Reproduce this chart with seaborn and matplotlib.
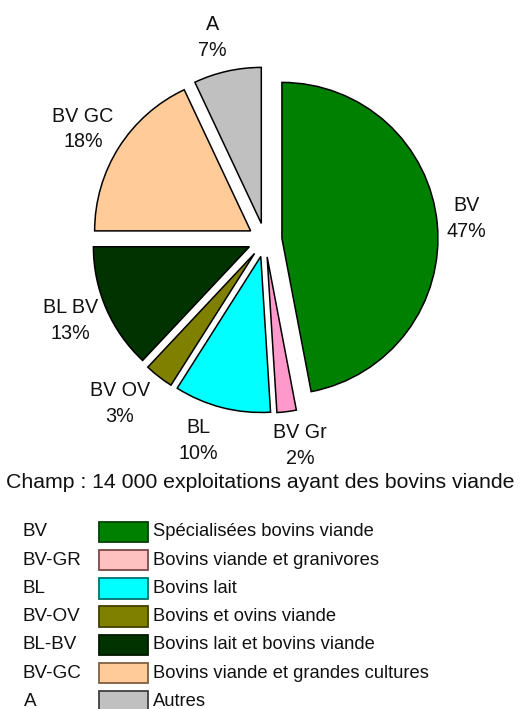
import matplotlib
matplotlib.use("Agg")
import matplotlib.pyplot as plt
import seaborn as sns

# pie data (clockwise from 12 o'clock)
pie_labels = ["BV", "BV Gr", "BL", "BV OV", "BL BV", "BV GC", "A"]
pie_shares = [47, 2, 10, 3, 13, 18, 7]
pie_colors = ["#008000", "#FF99CC", "#00FFFF", "#808000", "#003300", "#FFCC99", "#C0C0C0"]

# legend data
legend_codes = ["BV", "BV-GR", "BL", "BV-OV", "BL-BV", "BV-GC", "A"]
legend_texts = ["Spécialisées bovins viande", "Bovins viande et granivores", "Bovins lait",
                "Bovins et ovins viande", "Bovins lait et bovins viande",
                "Bovins viande et grandes cultures", "Autres"]
legend_fills = ["#008000", "#FFC0C0", "#00FFFF", "#808000", "#003300", "#FFCC99", "#C0C0C0"]
legend_edges = ["#004000", "#804848", "#007070", "#404000", "#001800", "#806040", "#404040"]

note = "Champ : 14 000 exploitations ayant des bovins viande"

# small nudges of the pie labels (pixels), like the hand-placed labels of the original
label_nudge = {"BV": (-5, 2), "BV Gr": (9, 0), "BL": (-15, 0), "BV OV": (-18, 0),
               "BL BV": (-4, 2), "BV GC": (-7, 0), "A": (-7, 0)}

sns.set_theme(style="white")
plt.rcParams["font.family"] = ["Liberation Sans", "DejaVu Sans"]

W, H = 525, 709
fig = plt.figure(figsize=(W / 100, H / 100), dpi=100)

# pie axes in pixel units (y up)
ax = fig.add_axes([0, 0, 1, 1])
radius = 156
cx, cy = 265, H - 240
explode = [17] * len(pie_shares)
wedges, texts = ax.pie(pie_shares, labels=[f"{l}\n{v}%" for l, v in zip(pie_labels, pie_shares)],
                       colors=pie_colors, startangle=90, counterclock=False,
                       explode=explode, radius=radius, center=(cx, cy),
                       labeldistance=1.22, frame=False,
                       wedgeprops=dict(edgecolor="black", linewidth=1.1),
                       textprops=dict(fontsize=14.2, color="#111111", linespacing=1.45))
for t, name in zip(texts, pie_labels):
    x, y = t.get_position()
    dx, dy = label_nudge[name]
    t.set_position((x + dx, y + dy))
    t.set_ha("center")
    t.set_va("center")
ax.set_xlim(0, W)
ax.set_ylim(0, H)
ax.set_aspect("equal")
ax.axis("off")

ax.text(W / 2 - 2, H - 483, note, ha="center", va="center", fontsize=15.3, color="#111111")

# legend axes: one row per category
n = len(legend_codes)
row_h = 28.2
top = 532 - row_h / 2
lax = fig.add_axes([0, (H - top - n * row_h) / H, 1, n * row_h / H])
lax.barh(range(n), [49] * n, left=99, height=0.72, color=legend_fills,
         edgecolor=legend_edges, linewidth=1.3)
for i, (code, txt) in enumerate(zip(legend_codes, legend_texts)):
    if code == "A":
        lax.text(30, i, code, ha="center", va="center", fontsize=13.6, color="#111111")
    else:
        lax.text(23, i, code, ha="left", va="center", fontsize=13.6, color="#111111")
    lax.text(153, i, txt, ha="left", va="center", fontsize=13.2, color="#111111")
lax.set_xlim(0, W)
lax.set_ylim(n - 0.5, -0.5)
lax.axis("off")

fig.savefig("out.png", dpi=100)
